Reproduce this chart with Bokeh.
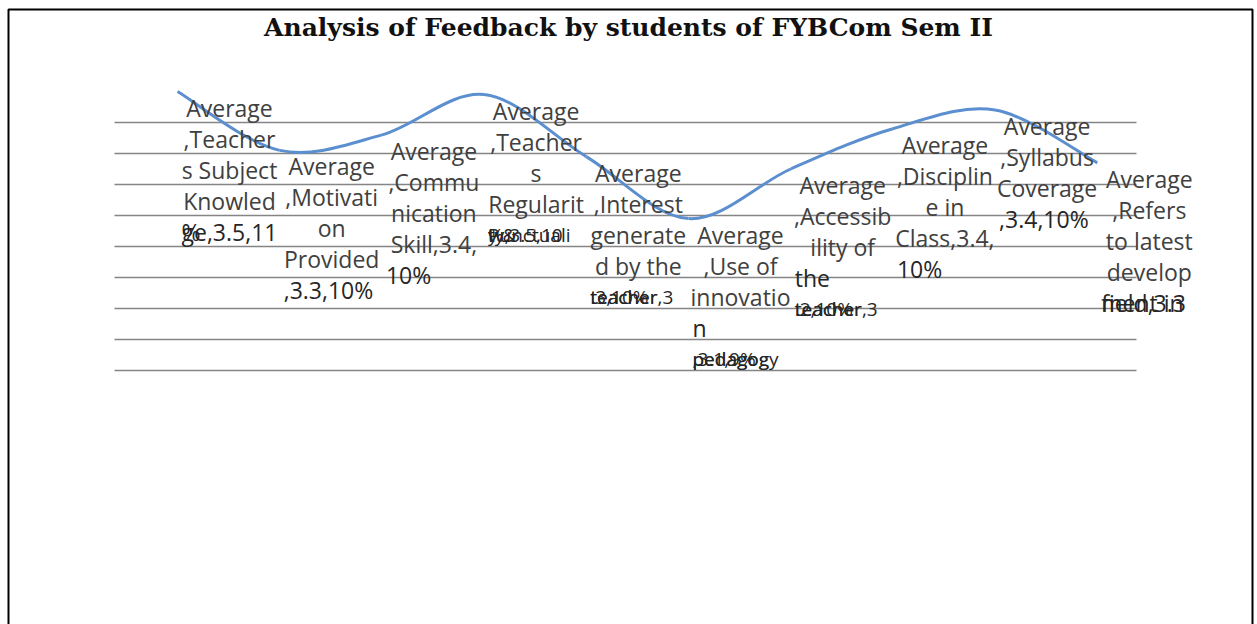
import numpy as np
from bokeh.plotting import figure
from bokeh.models import (Range1d, Span, Label, Grid, FixedTicker,
                          ColumnDataSource, BoxAnnotation)
from bokeh.core.properties import value
from bokeh.embed import file_html
from bokeh.resources import INLINE

# ---------------- data ----------------
title_text = "Analysis of Feedback by students of FYBCom Sem II"
categories = [
    "Teachers Subject Knowledge", "Motivation Provided", "Communication Skill",
    "Teachers Regularity & Punctuality", "Interest generated by the teacher",
    "Use of innovation pedagogy", "Accessibility of the teacher",
    "Discipline in Class", "Syllabus Coverage",
    "Refers to latest development in the field",
]
scores = [3.50, 3.31, 3.36, 3.49, 3.29, 3.09, 3.25, 3.38, 3.44, 3.27]
grid_values = [3.4, 3.3, 3.2, 3.1, 3.0, 2.9, 2.8, 2.7, 2.6]

# data labels as wrapped in the picture: centred rows, then left rows (overlapping pieces)
label_center_rows = [
    ["Average", ",Teacher", "s Subject", "Knowled"],
    ["Average", ",Motivati", "on", "Provided"],
    ["Average", ",Commu", "nication", "Skill,3.4,"],
    ["Average", ",Teacher", "s", "Regularit"],
    ["Average", ",Interest", "generate", "d by the"],
    ["Average", ",Use of", "innovatio"],
    ["Average", ",Accessib", "ility of"],
    ["Average", ",Disciplin", "e in", "Class,3.4,"],
    ["Average", ",Syllabus", "Coverage"],
    ["Average", ",Refers", "to latest", "develop"],
]
label_tail_rows = [
    [["ge,3.5,11", "%"]],
    [[",3.3,10%"]],
    [["10%"]],
    [["y &", "Punctuali", "ty,3.5,10", "%"]],
    [["teacher,3", ".3,10%", "teacher"]],
    [["n"], ["pedagogy", ",3.1,9%", "pedagog"]],
    [["the"], ["teacher,3", ".2,10%", "teacher"]],
    [["10%"]],
    [[",3.4,10%"]],
    [["ment in", "field,3.3"]],
]

# ---------------- layout ----------------
W, H = 1257, 624
X0, DX = 177.0, 102.2              # px of first category, px per category
Y0, VREF, PPV = 122.0, 3.4, 310.0  # px of VREF, px per unit value
x_start, x_end = -X0 / DX, (W - X0) / DX
y_end, y_start = VREF + Y0 / PPV, VREF - (H - Y0) / PPV

p = figure(width=W, height=H, x_range=Range1d(x_start, x_end),
           y_range=Range1d(y_start, y_end), output_backend="svg",
           toolbar_location=None, x_axis_location=None, y_axis_location=None,
           min_border=0, outline_line_color=None,
           background_fill_color="white", border_fill_color="white")
p.grid.visible = False

n = len(categories)
shift = 0.116
gx0, gx1 = -0.5 - shift, n - 0.5 - shift
grid_color, grid_w = "#858585", 1.5
try:
    g = Grid(dimension=1, ticker=FixedTicker(ticks=grid_values),
             cross_bounds=(gx0, gx1), grid_line_color=grid_color,
             grid_line_width=grid_w)
    p.center.append(g)
except AttributeError:
    p.segment(x0=[gx0] * len(grid_values), x1=[gx1] * len(grid_values),
              y0=grid_values, y1=grid_values, line_color=grid_color,
              line_width=grid_w)

# smoothed line through the points (Catmull-Rom as cubic Bezier)
xs = np.arange(n, dtype=float)
ys = np.array(scores, dtype=float)
qx = np.concatenate([[xs[0]], xs, [xs[-1]]])
qy = np.concatenate([[ys[0]], ys, [ys[-1]]])
k = np.arange(n - 1)
bez = dict(
    x0=qx[k + 1], y0=qy[k + 1], x1=qx[k + 2], y1=qy[k + 2],
    cx0=qx[k + 1] + (qx[k + 2] - qx[k]) / 6.0,
    cy0=qy[k + 1] + (qy[k + 2] - qy[k]) / 6.0,
    cx1=qx[k + 2] - (qx[k + 3] - qx[k + 1]) / 6.0,
    cy1=qy[k + 2] - (qy[k + 3] - qy[k + 1]) / 6.0,
)
p.bezier(source=ColumnDataSource(bez), x0="x0", y0="y0", x1="x1", y1="y1",
         cx0="cx0", cy0="cy0", cx1="cx1", cy1="cy1",
         line_color="#5b8fcf", line_width=3)

# data labels
LX, LY, LH, LLEFT = 52, 16, 31, 48
cen = dict(x=[], y=[], xo=[], yo=[], text=[])
lef = dict(x=[], y=[], xo=[], yo=[], text=[], size=[])
for i in range(n):
    r = 0
    for t in label_center_rows[i]:
        cen["x"].append(xs[i]); cen["y"].append(ys[i])
        cen["xo"].append(LX); cen["yo"].append(LY + LH * r); cen["text"].append(t)
        r += 1
    for pieces in label_tail_rows[i]:
        sz = "23px" if len(pieces) < 3 else "19px"
        for t in pieces:
            lef["x"].append(xs[i]); lef["y"].append(ys[i])
            lef["xo"].append(LX - LLEFT); lef["yo"].append(LY + LH * r)
            lef["text"].append(t); lef["size"].append(sz)
        r += 1

p.text(source=ColumnDataSource(cen), x="x", y="y", text="text",
       x_offset="xo", y_offset="yo", text_align="center",
       text_baseline="middle", text_font=value("Open Sans"),
       text_font_size="23px", text_color="#404040")
p.text(source=ColumnDataSource(lef), x="x", y="y", text="text",
       x_offset="xo", y_offset="yo", text_align="left",
       text_baseline="middle", text_font=value("Open Sans"),
       text_font_size="size", text_color="#262626")

# title
p.add_layout(Label(x=628, y=H - 27, x_units="screen", y_units="screen",
                   text=title_text, text_align="center",
                   text_baseline="alphabetic", text_font="DejaVu Serif",
                   text_font_style="bold", text_font_size="25px",
                   text_color="#111111"))

# outer border (left, top, right; bottom lies below the page)
p.add_layout(BoxAnnotation(left=8, right=1252, top=H - 9, bottom=-20,
                           left_units="screen", right_units="screen",
                           top_units="screen", bottom_units="screen",
                           fill_alpha=0, line_color="black", line_width=2,
                           line_alpha=1))

open("out.html", "w").write(file_html(p, INLINE))
